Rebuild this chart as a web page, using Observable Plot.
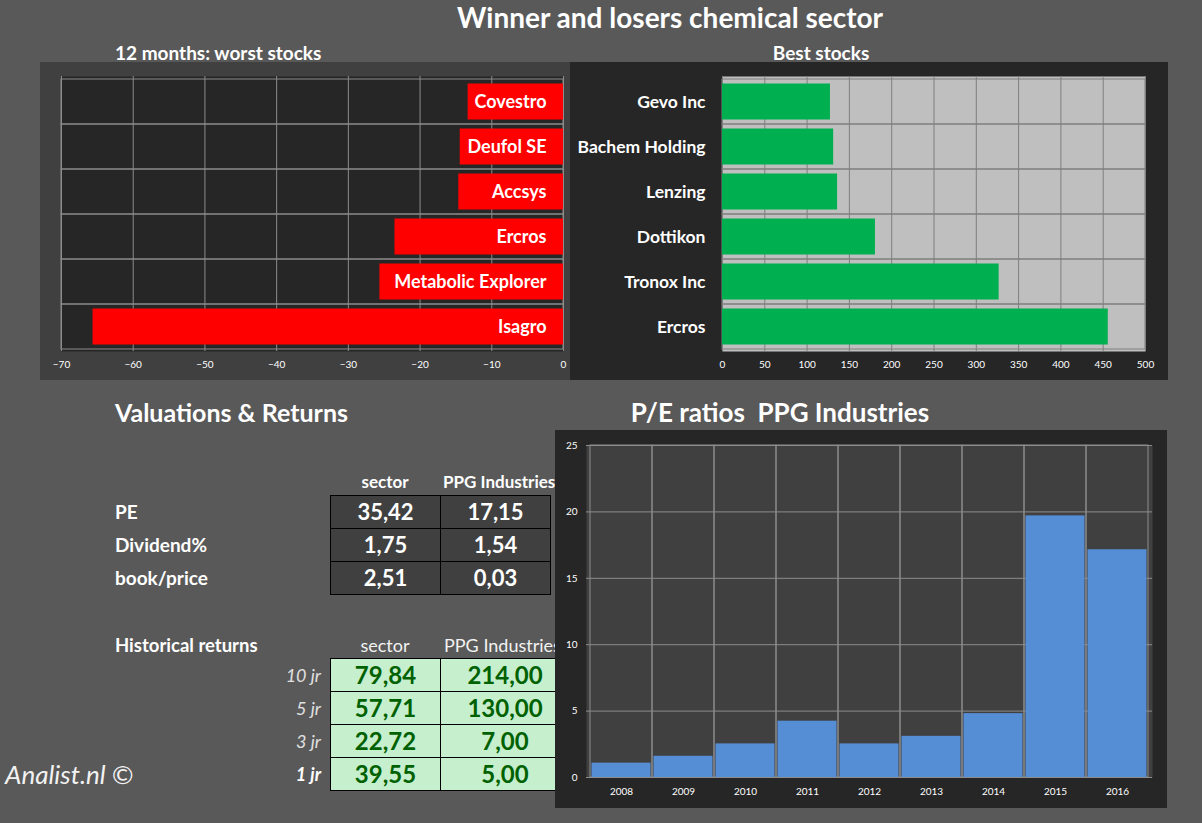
<!DOCTYPE html>
<html><head><meta charset="utf-8">
<script src="https://cdn.jsdelivr.net/npm/d3@7"></script>
<script src="https://cdn.jsdelivr.net/npm/@observablehq/plot@0.6"></script>
<style>
body{margin:0;background:#595959;}
#page{position:relative;width:1202px;height:823px;background:#595959;font-family:Lato,"Open Sans",sans-serif;color:#fff;overflow:hidden;}
.abs{position:absolute;white-space:nowrap;}
.b{font-weight:bold;}
.cell{position:absolute;box-sizing:border-box;border:1px solid #000;text-align:center;font-weight:bold;}
</style></head><body><div id="page">
<div class="abs b" style="left:370px;width:600px;text-align:center;top:3px;font-size:28px;line-height:28px;">Winner and losers chemical sector</div>
<div class="abs b" style="left:115px;top:42px;font-size:19px;line-height:22px;">12 months: worst stocks</div>
<div class="abs b" style="left:721px;width:200px;text-align:center;top:42px;font-size:19px;line-height:22px;">Best stocks</div>
<div class="abs b" style="left:115px;top:397px;font-size:25px;line-height:30px;">Valuations &amp; Returns</div>
<div class="abs b" style="left:580px;width:400px;text-align:center;top:397px;font-size:26px;line-height:30px;">P/E ratios&nbsp; PPG Industries</div>
<div id="tables"></div>
<div class="abs" style="left:5px;top:759px;font-size:26px;line-height:30px;font-style:italic;color:#f2f2f2;">Analist.nl ©</div>
<div id="c1" class="abs" style="left:40px;top:62px;"></div>
<div id="c2" class="abs" style="left:570px;top:62px;"></div>
<div id="c3" class="abs" style="left:555px;top:430px;"></div>
</div>
<script>
const worstNames = ["Covestro","Deufol SE","Accsys","Ercros","Metabolic Explorer","Isagro"];
const worstValues = [-13.3,-14.4,-14.6,-23.5,-25.6,-65.6];
const worstTicks = [-70,-60,-50,-40,-30,-20,-10,0];
const bestNames = ["Gevo Inc","Bachem Holding","Lenzing","Dottikon","Tronox Inc","Ercros"];
const bestValues = [127.6,131.4,136,180.8,327,456];
const bestTicks = [0,50,100,150,200,250,300,350,400,450,500];
const peYears = ["2008","2009","2010","2011","2012","2013","2014","2015","2016"];
const peValues = [1.08,1.6,2.53,4.24,2.53,3.1,4.81,19.7,17.15];
const peTicks = [0,5,10,15,20,25];
const valHeaders = ["sector","PPG Industries"];
const valRows = ["PE","Dividend%","book/price"];
const valSector = ["35,42","1,75","2,51"];
const valPPG = ["17,15","1,54","0,03"];
const histHeaders = ["sector","PPG Industries"];
const histRows = ["10 jr","5 jr","3 jr","1 jr"];
const histSector = ["79,84","57,71","22,72","39,55"];
const histPPG = ["214,00","130,00","7,00","5,00"];

const FONT = "Lato, 'Open Sans', sans-serif";
const GRID = "#8c8c8c";

// Chart 1: worst stocks
const worst = worstNames.map((n,i)=>({name:n, value:worstValues[i]}));
const c1 = Plot.plot({
  width:530, height:318, marginLeft:21, marginRight:7, marginTop:14, marginBottom:29,
  style:{background:"#404040", color:"#fff", fontFamily:FONT, fontSize:"10px", overflow:"visible"},
  x:{domain:[-70,0]},
  y:{domain:worstNames, padding:0, axis:null},
  marks:[
    Plot.frame({fill:"#262626"}),
    Plot.gridX(worstTicks, {stroke:GRID, strokeOpacity:1}),
    Plot.barX(worstNames, {x1:-70, x2:0, y:d=>d, fill:"none", stroke:GRID}),
    Plot.barX(worst, {x:"value", y:"name", fill:"#ff0000", insetTop:4.5, insetBottom:4.5}),
    Plot.text(worst, {x:0, y:"name", text:"name", textAnchor:"end", dx:-17, fill:"#fff", fontWeight:"bold", fontSize:18}),
    Plot.axisX(worstTicks, {tickSize:0, tickPadding:9, label:null, fill:"#fff"})
  ]
});
document.getElementById("c1").append(c1);

// Chart 2: best stocks
const best = bestNames.map((n,i)=>({name:n, value:bestValues[i]}));
const c2 = Plot.plot({
  width:598, height:318, marginLeft:152, marginRight:23, marginTop:14, marginBottom:29,
  style:{background:"#262626", color:"#fff", fontFamily:FONT, fontSize:"10px", overflow:"visible"},
  x:{domain:[0,500]},
  y:{domain:bestNames, padding:0},
  marks:[
    Plot.frame({fill:"#bfbfbf"}),
    Plot.gridX(bestTicks, {stroke:"#7f7f7f", strokeOpacity:1}),
    Plot.barX(bestNames, {x1:0, x2:500, y:d=>d, fill:"none", stroke:"#7f7f7f"}),
    Plot.barX(best, {x:"value", y:"name", fill:"#00b050", insetTop:4.5, insetBottom:4.5}),
    Plot.axisY({tickSize:0, tickPadding:17, label:null, fill:"#fff", fontWeight:"bold", fontSize:17.5}),
    Plot.axisX(bestTicks, {tickSize:0, tickPadding:9, label:null, fill:"#fff"})
  ]
});
document.getElementById("c2").append(c2);

// Chart 3: P/E ratios
const pe = peYears.map((y,i)=>({year:y, value:peValues[i]}));
const c3 = Plot.plot({
  width:612, height:378, marginLeft:31, marginRight:15, marginTop:15, marginBottom:31,
  style:{background:"#262626", color:"#fff", fontFamily:FONT, fontSize:"10px", overflow:"visible"},
  x:{domain:peYears, padding:0},
  y:{domain:[0,25]},
  marks:[
    Plot.frame({fill:"#404040"}),
    Plot.gridY(peTicks, {stroke:GRID, strokeOpacity:1}),
    Plot.barY(peYears, {x:d=>d, y1:0, y2:25, fill:"none", stroke:GRID}),
    Plot.barY(pe, {x:"year", y:"value", fill:"#558ed5", insetLeft:1.5, insetRight:1.5}),
    Plot.axisY(peTicks, {tickSize:0, tickPadding:9, label:null, fill:"#fff"}),
    Plot.axisX({tickSize:0, tickPadding:10, label:null, fill:"#fff"})
  ]
});
document.getElementById("c3").append(c3);

// Tables
const t = document.getElementById("tables");
function add(html){ t.insertAdjacentHTML("beforeend", html); }
const colX = [330, 440], colW = [110, 116];
valHeaders.forEach((h,j)=>{
  const style = j===0 ? `left:${colX[j]}px;width:${colW[j]}px;text-align:center;` : `left:443px;`;
  add(`<div class="abs b" style="${style}top:472px;font-size:17px;line-height:20px;">${h}</div>`);
});
valRows.forEach((r,i)=>{
  const top = 495 + i*33;
  add(`<div class="abs b" style="left:115px;top:${top+5}px;font-size:19px;line-height:24px;">${r}</div>`);
  [valSector[i], valPPG[i]].forEach((v,j)=>{
    add(`<div class="cell" style="left:${colX[j]}px;top:${top}px;width:111px;height:34px;background:#404040;color:#fff;font-size:22px;line-height:32px;">${v}</div>`);
  });
});
add(`<div class="abs b" style="left:115px;top:634px;font-size:18.5px;line-height:22px;">Historical returns</div>`);
histHeaders.forEach((h,j)=>{
  const style = j===0 ? `left:${colX[j]}px;width:${colW[j]}px;text-align:center;` : `left:444px;`;
  add(`<div class="abs" style="${style}top:634px;font-size:18px;line-height:22px;color:#f2f2f2;">${h}</div>`);
});
histRows.forEach((r,i)=>{
  const top = 658 + i*33;
  const bold = i===histRows.length-1 ? "font-weight:bold;color:#fff;" : "color:#e0e0e0;";
  add(`<div class="abs" style="left:220px;width:101px;text-align:right;top:${top+6}px;font-size:18px;line-height:22px;font-style:italic;${bold}">${r}</div>`);
  [histSector[i], histPPG[i]].forEach((v,j)=>{
    add(`<div class="cell" style="left:${colX[j]}px;top:${top}px;width:${j===0?111:130}px;height:34px;background:#c6efce;color:#006100;font-size:24px;line-height:32px;">${v}</div>`);
  });
});
</script>
</body></html>
